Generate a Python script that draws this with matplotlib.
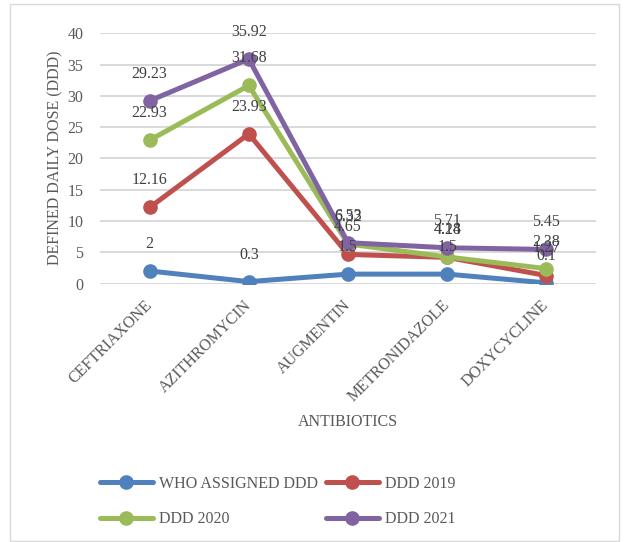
import matplotlib
matplotlib.use("Agg")
import matplotlib.pyplot as plt
from matplotlib.patches import Rectangle

categories = ["CEFTRIAXONE", "AZITHROMYCIN", "AUGMENTIN", "METRONIDAZOLE", "DOXYCYCLINE"]
who_ddd = [2, 0.3, 1.5, 1.5, 0.1]
ddd_2019 = [12.16, 23.93, 4.65, 4.18, 1.27]
ddd_2020 = [22.93, 31.68, 6.32, 4.24, 2.38]
ddd_2021 = [29.23, 35.92, 6.53, 5.71, 5.45]
series_names = ["WHO ASSIGNED DDD", "DDD 2019", "DDD 2020", "DDD 2021"]
y_ticks = [0, 5, 10, 15, 20, 25, 30, 35, 40]

colors = ["#4F81BD", "#C0504D", "#9BBB59", "#8064A2"]
series = [who_ddd, ddd_2019, ddd_2020, ddd_2021]

plt.rcParams["font.family"] = ["Liberation Serif", "DejaVu Serif"]
W, H, DPI = 627, 542, 100
fig = plt.figure(figsize=(W / DPI, H / DPI), dpi=DPI)

# light frame around the chart area
fig.patches.append(Rectangle((10 / W, 0.002), 609 / W, 1 - 4 / H - 0.002,
                             transform=fig.transFigure, fill=False,
                             edgecolor="#D9D9D9", linewidth=1.0))

ax = fig.add_axes([100 / W, 1 - 283.5 / H, 496 / W, 250 / H])
x = list(range(len(categories)))

lines = []
for vals, name, c in zip(series, series_names, colors):
    ln, = ax.plot(x, vals, color=c, linewidth=3.6, marker="o", markersize=9.5,
                  label=name, solid_capstyle="round", zorder=3)
    lines.append(ln)

for vals in series:
    for xi, v in zip(x, vals):
        ax.annotate(f"{v:g}", (xi, v), xytext=(0, 19.5), textcoords="offset points",
                    ha="center", va="center", fontsize=11.5, color="#404040", zorder=10)

ax.set_xlim(-0.5, len(categories) - 0.5)
ax.set_ylim(0, 40)
ax.set_yticks(y_ticks)
ax.set_yticklabels([str(t) for t in y_ticks])
ax.set_xticks(x)
ax.set_xticklabels(categories, rotation=45, ha="right", va="center",
                   rotation_mode="anchor")
ax.tick_params(axis="both", length=0, labelsize=11.5, labelcolor="#595959")
ax.tick_params(axis="y", pad=12)
ax.tick_params(axis="x", pad=14)
ax.grid(axis="y", color="#D9D9D9", linewidth=1.4)
ax.set_axisbelow(True)
for s in ax.spines.values():
    s.set_visible(False)

fig.text(55 / W, 1 - 158 / H, "DEFINED DAILY DOSE (DDD)", rotation=90,
         ha="center", va="center", fontsize=11.5, color="#595959")
fig.text(348 / W, 1 - 422 / H, "ANTIBIOTICS", ha="center", va="center",
         fontsize=11.5, color="#595959")

order = [0, 2, 1, 3]
leg = fig.legend([lines[i] for i in order], [series_names[i] for i in order],
                 ncol=2, loc="upper left", bbox_to_anchor=(92 / W, 1 - 468 / H),
                 frameon=False, fontsize=11.5, handlelength=3.3, handletextpad=0.4,
                 labelspacing=1.2, columnspacing=0.5, borderpad=0)
for t in leg.get_texts():
    t.set_color("#595959")

fig.savefig("out.png", dpi=DPI)
